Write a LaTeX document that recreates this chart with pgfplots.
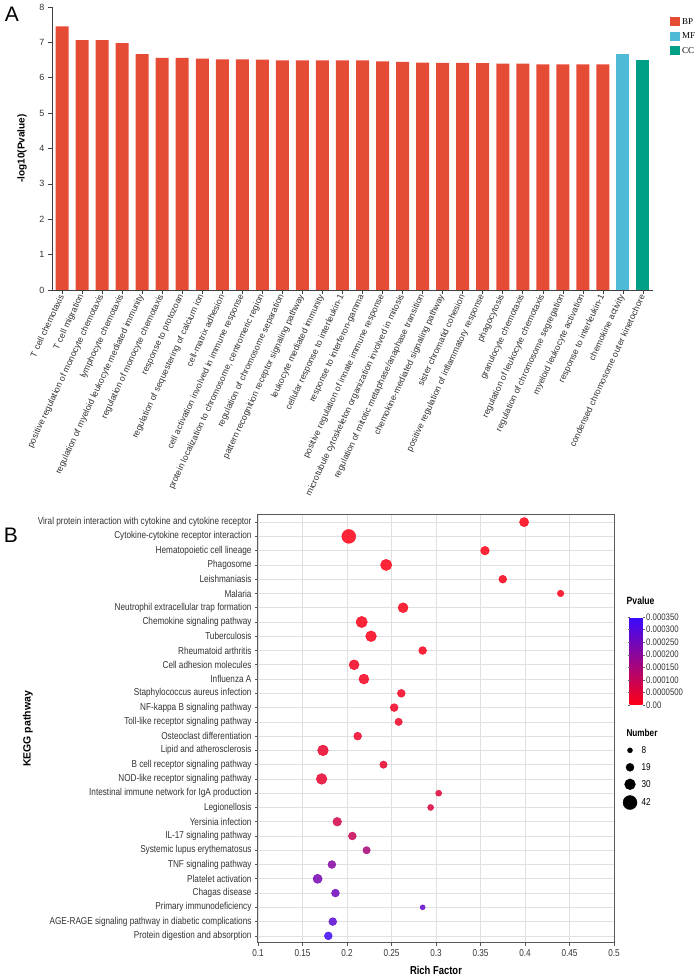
\documentclass[border=0pt]{standalone}
\usepackage{fontspec}
\setmainfont{Liberation Sans}
\newfontfamily\narrow[FakeStretch=0.82]{Liberation Sans}
\newfontfamily\serifA{Liberation Serif}
\usepackage{pgfplots}
\pgfplotsset{compat=1.18}
\definecolor{npgred}{HTML}{E64B35}
\definecolor{npgblue}{HTML}{4DBBD5}
\definecolor{npggreen}{HTML}{00A087}
\definecolor{txt}{HTML}{333333}
\begin{document}
\begin{tikzpicture}[x=1pt,y=1pt]
\path[use as bounding box] (0,0) rectangle (699,980);
\node[font=\fontsize{21}{21}\selectfont] at (12,965.5) {A};
\node[font=\fontsize{21}{21}\selectfont] at (11,444.5) {B};

\begin{axis}[at={(52pt,690pt)}, anchor=south west, scale only axis,
  width=601pt, height=283pt,
  xmin=-0.5, xmax=29.5, ymin=0, ymax=8,
  axis x line=bottom, axis y line=left,
  axis line style={-, black!75, line width=0.8pt},
  ybar, bar width=13pt, bar shift=0pt,
  ytick={0,...,8}, xtick={0,...,29},
  xticklabels={T cell chemotaxis, T cell migration, positive regulation of monocyte chemotaxis, lymphocyte chemotaxis, regulation of myeloid leukocyte mediated immunity, regulation of monocyte chemotaxis, response to protozoan, regulation of sequestering of calcium ion, cell-matrix adhesion, cell activation involved in immune response, {protein localization to chromosome, centromeric region}, regulation of chromosome separation, pattern recognition receptor signaling pathway, leukocyte mediated immunity, cellular response to interleukin-1, response to interferon-gamma, positive regulation of innate immune response, microtubule cytoskeleton organization involved in mitosis, regulation of mitotic metaphase/anaphase transition, chemokine-mediated signaling pathway, sister chromatid cohesion, positive regulation of inflammatory response, phagocytosis, granulocyte chemotaxis, regulation of leukocyte chemotaxis, regulation of chromosome segregation, myeloid leukocyte activation, response to interleukin-1, chemokine activity, condensed chromosome outer kinetochore},
  tick align=outside, major tick length=4pt,
  tick style={black!75, line width=0.6pt},
  xticklabel style={rotate=65, anchor=east, font=\fontsize{8.8}{9}\selectfont, text=txt, inner sep=1pt},
  yticklabel style={font=\fontsize{9}{9}\selectfont, text=txt},
  /pgf/number format/assume math mode=true,
  ylabel={\bfseries -log10(Pvalue)},
  ylabel style={at={(axis description cs:-0.05,0.5)}, anchor=center, rotate=0, font=\fontsize{10}{10}\selectfont},
  legend style={at={(1.023,0.975)}, anchor=north west, draw=none, fill=none, font=\serifA\fontsize{9}{9}\selectfont, row sep=3pt},
  legend cell align=left,
  legend image code/.code={\fill[#1] (0pt,-4.5pt) rectangle (10pt,4.5pt);},
]
\addplot[fill=npgred, draw=none] coordinates {(0,7.45) (1,7.06) (2,7.06) (3,6.98) (4,6.67) (5,6.56) (6,6.56) (7,6.54) (8,6.52) (9,6.52) (10,6.51) (11,6.49) (12,6.49) (13,6.49) (14,6.49) (15,6.49) (16,6.46) (17,6.45) (18,6.43) (19,6.42) (20,6.42) (21,6.41) (22,6.40) (23,6.40) (24,6.38) (25,6.38) (26,6.38) (27,6.38)};
\addplot[fill=npgblue, draw=none] coordinates {(28,6.68)};
\addplot[fill=npggreen, draw=none] coordinates {(29,6.51)};
\legend{BP,MF,CC}
\end{axis}

\begin{axis}[at={(258pt,37pt)}, anchor=south west, scale only axis,
  width=356pt, height=428pt,
  xmin=0.1, xmax=0.5, ymin=-0.5, ymax=29.5,
  xtick={0.1,0.15,0.2,0.25,0.3,0.35,0.4,0.45,0.5},
  xticklabels={0.1,0.15,0.2,0.25,0.3,0.35,0.4,0.45,0.5},
  ytick={0,...,29},
  yticklabels={Protein digestion and absorption, AGE-RAGE signaling pathway in diabetic complications, Primary immunodeficiency, Chagas disease, Platelet activation, TNF signaling pathway, Systemic lupus erythematosus, IL-17 signaling pathway, Yersinia infection, Legionellosis, Intestinal immune network for IgA production, NOD-like receptor signaling pathway, B cell receptor signaling pathway, Lipid and atherosclerosis, Osteoclast differentiation, Toll-like receptor signaling pathway, NF-kappa B signaling pathway, Staphylococcus aureus infection, Influenza A, Cell adhesion molecules, Rheumatoid arthritis, Tuberculosis, Chemokine signaling pathway, Neutrophil extracellular trap formation, Malaria, Leishmaniasis, Phagosome, Hematopoietic cell lineage, Cytokine-cytokine receptor interaction, Viral protein interaction with cytokine and cytokine receptor},
  xtick pos=bottom, ytick pos=left, tick align=outside, major tick length=3pt,
  grid=major, grid style={black!12, line width=0.6pt},
  axis line style={black!65, line width=1pt},
  tick style={black!65, line width=0.7pt},
  ticklabel style={font=\narrow\fontsize{10}{10}\selectfont, text=txt},
  xlabel={\bfseries Rich Factor},
  xlabel style={at={(axis description cs:0.5,-0.063)}, anchor=center, font=\narrow\fontsize{11.5}{11.5}\selectfont},
  ylabel={\bfseries KEGG pathway},
  ylabel style={at={(axis description cs:-0.646,0.5)}, anchor=center, font=\fontsize{10.5}{10.5}\selectfont},
  point meta min=0, point meta max=0.00035,
  colormap={pv}{rgb255=(255,0,20) rgb255=(55,10,255)},
  colorbar,
  colorbar style={
    at={(parent axis.north east)}, anchor=north west, xshift=7pt, yshift=-102pt,
    scale only axis, width=13pt, height=88pt, grid=none,
    axis line style={draw=none},
    ytick={0,0.00005,0.0001,0.00015,0.0002,0.00025,0.0003,0.00035},
    yticklabels={0.00,0.0000500,0.000100,0.000150,0.000200,0.000250,0.000300,0.000350},
    scaled y ticks=false,
    major tick length=2pt, tick align=outside, tick style={black!60},
    yticklabel style={font=\narrow\fontsize{9.5}{9.5}\selectfont, text=txt, inner sep=1.5pt},
    title={\bfseries Pvalue},
    title style={at={(0,1)}, anchor=south west, xshift=-3pt, yshift=6pt, inner sep=0pt, font=\narrow\fontsize{10.5}{10.5}\selectfont},
  },
  legend style={at={(1.012,0.509)}, anchor=north west, draw=none, fill=none, font=\narrow\fontsize{10}{10}\selectfont, row sep=5.5pt, nodes={inner sep=1.5pt}, /tikz/every odd column/.append style={column sep=3pt}},
  legend cell align=left,
]
\addplot[scatter, only marks, mark=*, forget plot,
  scatter/use mapped color={draw=mapped color, fill=mapped color},
  fill opacity=0.85, draw opacity=0.85,
  visualization depends on={\thisrow{n} \as \nn},
  scatter/@pre marker code/.append style={/tikz/mark size=1.5+0.13*\nn},
  point meta=\thisrow{p}]
table {
x y n p
0.399 29 24 0.0000002
0.202 28 42 0.0000004
0.355 27 22 0.0000012
0.244 26 32 0.0000020
0.375 25 19 0.0000030
0.440 24 14 0.0000046
0.263 23 27 0.0000060
0.2165 22 32 0.0000078
0.227 21 30 0.0000090
0.285 20 19 0.0000120
0.208 19 27 0.0000150
0.219 18 27 0.0000180
0.261 17 19 0.0000210
0.253 16 19 0.0000240
0.258 15 17 0.0000270
0.212 14 19 0.0000300
0.173 13 30 0.000033
0.241 12 17 0.000036
0.1715 11 30 0.000040
0.303 10 12 0.000055
0.294 9 12 0.000065
0.189 8 22 0.000080
0.206 7 19 0.000100
0.222 6 17 0.000150
0.183 5 19 0.000210
0.167 4 24 0.000235
0.187 3 19 0.000250
0.285 2 8 0.000270
0.184 1 19 0.000285
0.179 0 19 0.000330
};
\addlegendimage{empty legend}\addlegendentry{\hspace{-15pt}\bfseries Number}
\addlegendimage{only marks, mark=*, black, mark size=2.5pt}\addlegendentry{8}
\addlegendimage{only marks, mark=*, black, mark size=4pt}\addlegendentry{19}
\addlegendimage{only marks, mark=*, black, mark size=5.4pt}\addlegendentry{30}
\addlegendimage{only marks, mark=*, black, mark size=7pt}\addlegendentry{42}
\end{axis}
\end{tikzpicture}
\end{document}
